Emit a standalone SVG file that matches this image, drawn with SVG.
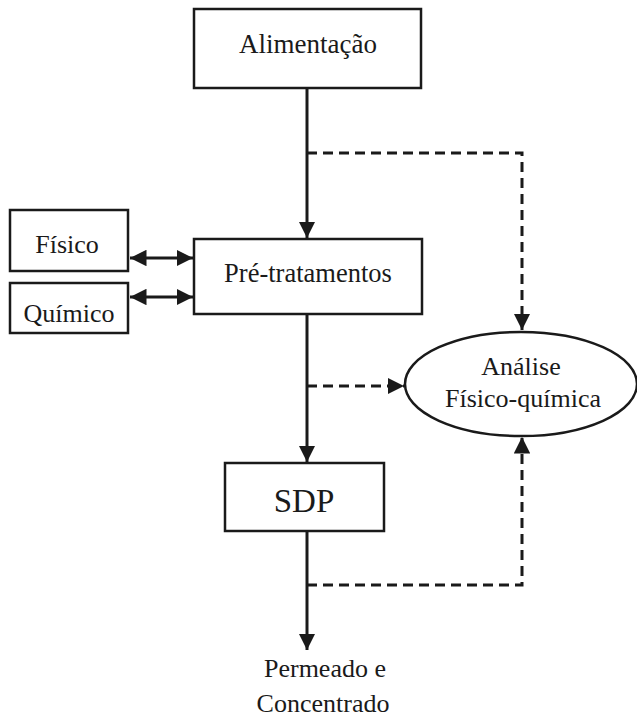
<svg xmlns="http://www.w3.org/2000/svg" width="637" height="717" viewBox="0 0 637 717">
<defs>
<marker id="ah" viewBox="0 0 10 10" refX="10" refY="5" markerWidth="5.5" markerHeight="5.5" orient="auto-start-reverse" markerUnits="strokeWidth">
<path d="M0,0 L10,5 L0,10 z" fill="#1a1a1a"/>
</marker>
<style>
.box{fill:#fff;stroke:#1a1a1a;stroke-width:2.5}
.t{font-family:"Liberation Serif","DejaVu Serif","Times New Roman",serif;fill:#1a1a1a;text-anchor:middle}
.solid{fill:none;stroke:#1a1a1a;stroke-width:3}
.dash{fill:none;stroke:#1a1a1a;stroke-width:3;stroke-dasharray:10 6}
</style>
</defs>
<rect width="637" height="717" fill="#fff"/>
<g id="connectors">
<line class="solid" x1="307" y1="88" x2="307" y2="238" marker-end="url(#ah)"/>
<line class="solid" x1="130" y1="258" x2="193" y2="258" marker-start="url(#ah)" marker-end="url(#ah)"/>
<line class="solid" x1="130" y1="297" x2="193" y2="297" marker-start="url(#ah)" marker-end="url(#ah)"/>
<line class="solid" x1="307" y1="314" x2="307" y2="462" marker-end="url(#ah)"/>
<line class="solid" x1="307" y1="531" x2="307" y2="650" marker-end="url(#ah)"/>
<polyline class="dash" points="307,153 522,153 522,330" marker-end="url(#ah)"/>
<line class="dash" x1="307" y1="386" x2="404" y2="386" marker-end="url(#ah)"/>
<polyline class="dash" points="307,585 522,585 522,437" marker-end="url(#ah)"/>
</g>
<g id="alimentacao">
<rect class="box" x="194" y="9" width="227" height="79"/>
<text class="t" x="308" y="53" style="font-size:27px">Alimentação</text>
</g>
<g id="fisico">
<rect class="box" x="10" y="210" width="118" height="61"/>
<text class="t" x="67" y="253" style="font-size:26px">Físico</text>
</g>
<g id="quimico">
<rect class="box" x="10" y="283" width="118" height="50"/>
<text class="t" x="69" y="322" style="font-size:26px">Químico</text>
</g>
<g id="pretratamentos">
<rect class="box" x="194" y="239" width="228" height="75"/>
<text class="t" x="308" y="282" style="font-size:26.5px">Pré-tratamentos</text>
</g>
<g id="analise">
<ellipse class="box" cx="521" cy="384" rx="116" ry="52"/>
<text class="t" x="521" y="375" style="font-size:26px">Análise</text>
<text class="t" x="523" y="407" style="font-size:26px">Físico-química</text>
</g>
<g id="sdp">
<rect class="box" x="225" y="463" width="159" height="68"/>
<text class="t" x="304" y="512" style="font-size:33px">SDP</text>
</g>
<g id="saida">
<text class="t" x="325" y="677" style="font-size:26px">Permeado e</text>
<text class="t" x="323" y="712" style="font-size:26px">Concentrado</text>
</g>
</svg>
